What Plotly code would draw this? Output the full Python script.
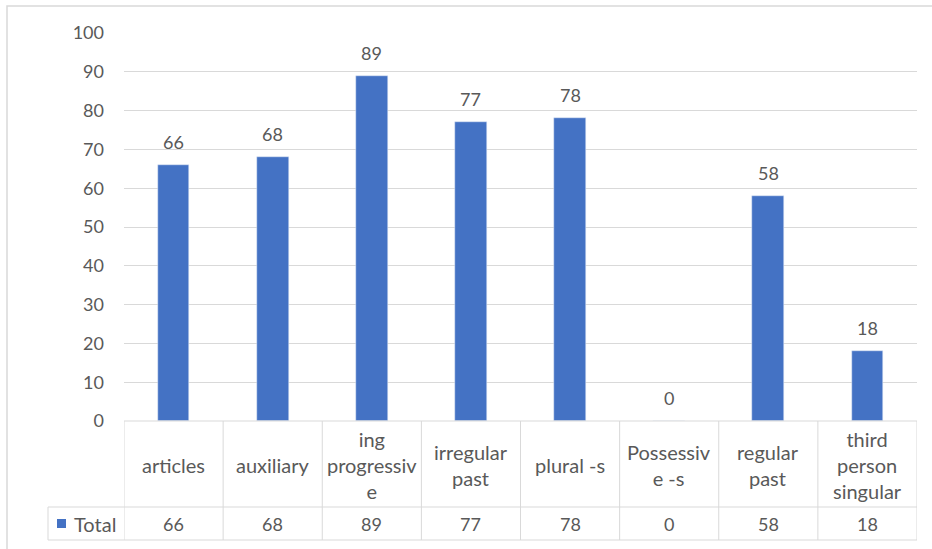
import plotly.graph_objects as go

categories = ["articles", "auxiliary", "ing progressive", "irregular past",
              "plural -s", "Possessive -s", "regular past", "third person singular"]
table_labels = ["articles", "auxiliary", "ing<br>progressiv<br>e", "irregular<br>past",
                "plural -s", "Possessiv<br>e -s", "regular<br>past", "third<br>person<br>singular"]
values = [66, 68, 89, 77, 78, 0, 58, 18]
series_name = "Total"
y_ticks = [0, 10, 20, 30, 40, 50, 60, 70, 80, 90, 100]

W, H = 932, 549
L, R, T, B = 124, 917, 33, 421
BLUE = "#4472C4"
GRID = "#D9D9D9"
TXT = "#595959"
FONT = "Lato"


def px_x(px):
    return (px - L) / (R - L)


def px_y(py):
    return (B - py) / (B - T)


n = len(categories)
xs = list(range(n))

fig = go.Figure()
fig.add_trace(go.Bar(x=xs, y=values, marker_color=BLUE, width=0.32, name=series_name,
                     showlegend=False))

shapes = []
annotations = []
line = dict(color=GRID, width=1)

row_mid = 507
tab_bot = 540
legend_left = 48

shapes.append(dict(type="line", xref="paper", yref="paper", x0=0, x1=1,
                   y0=px_y(B), y1=px_y(B), line=line))
for py in (row_mid, tab_bot):
    shapes.append(dict(type="line", xref="paper", yref="paper", x0=px_x(legend_left), x1=1,
                       y0=px_y(py), y1=px_y(py), line=line))
for i in range(n + 1):
    shapes.append(dict(type="line", xref="x", yref="paper", x0=i - 0.5, x1=i - 0.5,
                       y0=px_y(B), y1=px_y(tab_bot), line=line))
shapes.append(dict(type="line", xref="paper", yref="paper", x0=px_x(legend_left), x1=px_x(legend_left),
                   y0=px_y(row_mid), y1=px_y(tab_bot), line=line))
shapes.append(dict(type="rect", xref="paper", yref="paper", x0=px_x(7), x1=px_x(960),
                   y0=px_y(580), y1=px_y(6), line=dict(color=GRID, width=1.5),
                   fillcolor="rgba(0,0,0,0)", layer="below"))
shapes.append(dict(type="rect", xref="paper", yref="paper", x0=px_x(57), x1=px_x(66),
                   y0=px_y(528), y1=px_y(519), line=dict(width=0), fillcolor=BLUE))

wf = dict(family=FONT, size=20, color=TXT)
nf = dict(family=FONT, size=18, color=TXT)
for i, (lab, v) in enumerate(zip(table_labels, values)):
    annotations.append(dict(x=i, y=px_y((B + row_mid) / 2 + 1), xref="x", yref="paper", text=lab,
                            showarrow=False, font=wf, yanchor="middle", xanchor="center"))
    annotations.append(dict(x=i, y=px_y((row_mid + tab_bot) / 2), xref="x", yref="paper", text=str(v),
                            showarrow=False, font=nf, yanchor="middle", xanchor="center"))
    annotations.append(dict(x=i, y=v, xref="x", yref="y", text=str(v), showarrow=False,
                            font=nf, yanchor="middle", yshift=23))
annotations.append(dict(x=px_x(72), y=px_y((row_mid + tab_bot) / 2), xref="paper", yref="paper",
                        text=series_name, showarrow=False, xanchor="left", yanchor="middle",
                        font=wf))

fig.update_layout(
    width=W, height=H,
    margin=dict(l=L, r=W - R, t=T, b=H - B, pad=0),
    paper_bgcolor="white", plot_bgcolor="white",
    bargap=0,
    shapes=shapes, annotations=annotations,
    font=nf,
    xaxis=dict(range=[-0.5, n - 0.5], showticklabels=False, showgrid=False, zeroline=False,
               showline=False, ticks="", fixedrange=True),
    yaxis=dict(range=[0, 100], tickvals=y_ticks, showgrid=True, gridcolor=GRID, gridwidth=1,
               zeroline=False, showline=False, ticks="", ticklabelstandoff=19,
               tickfont=nf, fixedrange=True),
)

fig.write_html("out.html", config={"displayModeBar": False},
               post_script="document.body.style.margin='0';document.body.style.overflow='hidden';")
